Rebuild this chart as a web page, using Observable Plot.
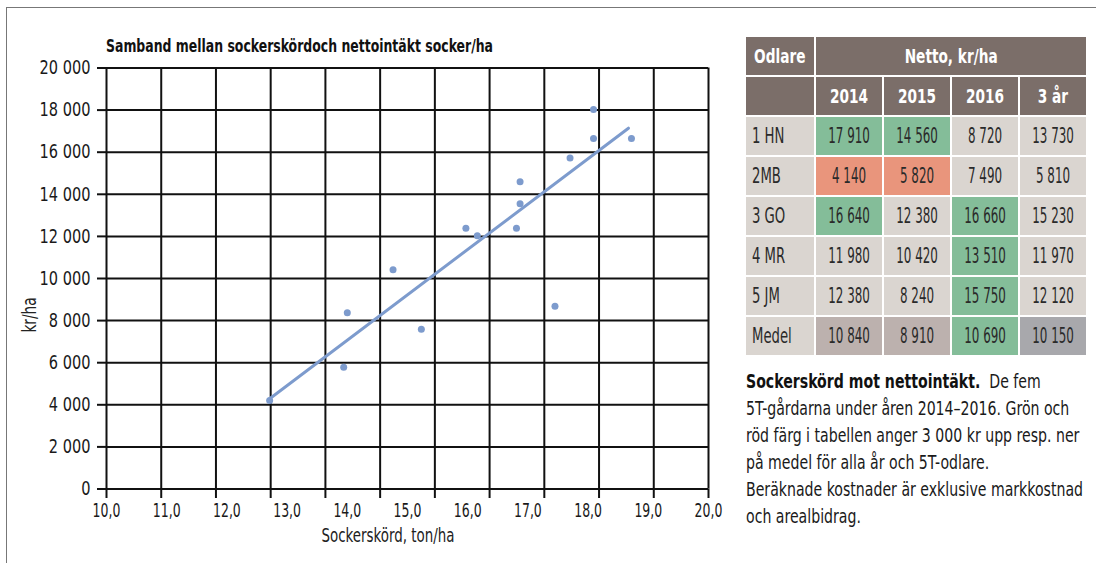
<!DOCTYPE html>
<html>
<head>
<meta charset="utf-8">
<script src="https://cdn.jsdelivr.net/npm/d3@7"></script>
<script src="https://cdn.jsdelivr.net/npm/@observablehq/plot@0.6"></script>
<style>
  body { margin: 0; background: #fff; }
  #wrap { position: relative; width: 1096px; height: 563px; overflow: hidden;
    font-family: "Liberation Sans Narrow", "Arial Narrow", "DejaVu Sans Condensed", sans-serif; color: #222; }
  #frameTop { position: absolute; left: 6px; top: 7px; width: 1090px; height: 0; border-top: 1.5px solid #777; }
  #frameLeft { position: absolute; left: 6px; top: 7px; width: 0; height: 556px; border-left: 1.5px solid #777; }
  #title { position: absolute; left: 106px; top: 36px; font-weight: bold; font-size: 18px; line-height: 20px; color: #111; white-space: nowrap; transform-origin: 0 50%; }
  #chart { position: absolute; left: 0; top: 55px; }
  #ylab { position: absolute; left: 29px; top: 315px; font-size: 19px; transform: translate(-50%, -50%) rotate(-90deg) scaleX(0.8); white-space: nowrap; }
  #xlab { position: absolute; left: 388px; top: 535px; font-size: 19px; white-space: nowrap; }
  #tbl { position: absolute; left: 744px; top: 35px; border-collapse: separate; border-spacing: 2px; background: #fff; table-layout: fixed; }
  #tbl td, #tbl th { width: 66px; height: 38px; padding: 0; text-align: center; vertical-align: middle; box-sizing: border-box; white-space: nowrap; }
  #tbl th { background: #7b6e69; color: #fff; font-weight: bold; font-size: 20px; }
  #tbl th span { display: inline-block; transform: scaleX(0.76); }
  #tbl td { background: #dad5d0; color: #2a2a2a; font-size: 21px; }
  #tbl td span { display: inline-block; transform: scaleX(0.63); }
  #tbl td.name { text-align: left; padding-left: 6px; }
  #tbl td.name span { transform-origin: 0 50%; transform: scaleX(0.7); }
  #tbl td.up { background: #84bd99; }
  #tbl td.down { background: #e9957c; }
  #tbl td.meanYear { background: #bcb1ae; }
  #tbl td.meanAll { background: #a8a8ac; }
  #caption { position: absolute; left: 746px; top: 368px; font-size: 20px; line-height: 27px; color: #1a1a1a; white-space: nowrap; transform-origin: 0 0; }
  #caption b { color: #111; }
</style>
</head>
<body>
<div id="wrap">
  <div id="frameTop"></div>
  <div id="frameLeft"></div>
  <div id="title"></div>
  <div id="chart"></div>
  <div id="ylab"></div>
  <div id="xlab"></div>
  <table id="tbl"></table>
  <div id="caption"></div>
</div>
<script>
// ---- Scatter data ----
const sugarYield = [12.71, 13.94, 14.00, 14.76, 15.23, 15.97, 16.16, 16.81, 16.87, 16.87, 17.45, 17.70, 18.09, 18.09, 18.72];
const netIncome  = [4200, 5780, 8370, 10420, 7590, 12390, 12030, 12390, 14600, 13550, 8680, 15720, 18030, 16650, 16650];
// trend line end points
const trendYield  = [12.71, 18.67];
const trendIncome = [4285, 17140];
// axis ticks
const xTickValues = [10, 11, 12, 13, 14, 15, 16, 17, 18, 19, 20];
const yTickValues = [0, 2000, 4000, 6000, 8000, 10000, 12000, 14000, 16000, 18000, 20000];
const xGridCount = 11; // the drawn grid has 11 columns between 10,0 and 20,0

// ---- Table data ----
const growers  = ["1 HN", "2MB", "3 GO", "4 MR", "5 JM", "Medel"];
const yearCols = ["2014", "2015", "2016", "3 år"];
const net2014  = [17910, 4140, 16640, 11980, 12380, 10840];
const net2015  = [14560, 5820, 12380, 10420, 8240, 8910];
const net2016  = [8720, 7490, 16660, 13510, 15750, 10690];
const net3yr   = [13730, 5810, 15230, 11970, 12120, 10150];
// marking of the "Medel" row as printed (per column)
const meanRowMarks = ["meanYear", "meanYear", "up", "meanAll"];

// ---- Texts ----
const titleText = "Samband mellan sockerskördoch nettointäkt socker/ha";
const xTitle = "Sockerskörd, ton/ha";
const yTitle = "kr/ha";
const captionBold = "Sockerskörd mot nettointäkt.";
const captionLines = [
  "\u00a0 De fem",
  "5T-gårdarna under åren 2014–2016. Grön och",
  "röd färg i tabellen anger 3 000 kr upp resp. ner",
  "på medel för alla år och 5T-odlare.",
  "Beräknade kostnader är exklusive markkostnad",
  "och arealbidrag."
];

const fmtNum = d => d3.format(",")(d).replace(/,/g, " ");
const FONT = '"Liberation Sans Narrow", "Arial Narrow", "DejaVu Sans Condensed", sans-serif';
const BLUE = "#7d9bcd";

const points = sugarYield.map((x, i) => ({x, y: netIncome[i]}));
const trend = trendYield.map((x, i) => ({x, y: trendIncome[i]}));
const xGrid = d3.range(xGridCount + 1).map(k => xTickValues[0] + k * (xTickValues[xTickValues.length - 1] - xTickValues[0]) / xGridCount);

const chart = Plot.plot({
  width: 730,
  height: 508,
  marginLeft: 106,
  marginRight: 22,
  marginTop: 12.5,
  marginBottom: 74.5,
  style: {background: "transparent", fontFamily: FONT, fontSize: "18px", color: "#1a1a1a", overflow: "visible"},
  x: {domain: [10, 20]},
  y: {domain: [0, 20000]},
  marks: [
    Plot.gridX(xGrid, {stroke: "#111", strokeOpacity: 1, strokeWidth: 2}),
    Plot.gridY(yTickValues, {stroke: "#111", strokeOpacity: 1, strokeWidth: 2}),
    Plot.axisX(xGrid, {tickSize: 9.5, tickFormat: () => "", label: null, stroke: "#111", strokeWidth: 2}),
    Plot.axisX(xTickValues, {tickSize: 0, tickPadding: 15, tickFormat: d => d.toFixed(1).replace(".", ","), label: null, fontSize: 19}),
    Plot.axisY(yTickValues, {tickSize: 9, tickPadding: 7, tickFormat: fmtNum, label: null, stroke: "#111", strokeWidth: 2, fontSize: 19.5}),
    Plot.line(trend, {x: "x", y: "y", stroke: BLUE, strokeWidth: 3}),
    Plot.dot(points, {x: "x", y: "y", r: 3.5, fill: BLUE, stroke: "none"})
  ]
});
document.getElementById("chart").append(chart);

// condense tick labels horizontally (the original uses a condensed face)
function squeezeSvgText(selector, sx) {
  chart.querySelectorAll(selector).forEach(t => {
    const tr = t.getAttribute("transform");
    if (tr !== null) t.setAttribute("transform", tr + ` scale(${sx},1)`);
  });
}
squeezeSvgText('g[aria-label="x-axis tick label"] text', 0.73);
squeezeSvgText('g[aria-label="y-axis tick label"] text', 0.83);

// fit an HTML block to a target width by horizontal scaling
function fitWidth(el, target, extra = "") {
  const w = el.getBoundingClientRect().width;
  el.style.transform = `${extra} scaleX(${target / w})`;
}

const titleEl = document.getElementById("title");
titleEl.textContent = titleText;
fitWidth(titleEl, 387);

const xlabEl = document.getElementById("xlab");
xlabEl.textContent = xTitle;
{
  const w = xlabEl.getBoundingClientRect().width;
  xlabEl.style.transform = `translate(-50%, -50%) scaleX(${133 / w})`;
}
document.getElementById("ylab").textContent = yTitle;

// ---- Table ----
const tbl = document.getElementById("tbl");
function addCell(row, tag, text, cls) {
  const c = document.createElement(tag);
  if (text !== "") { const s = document.createElement("span"); s.textContent = text; c.append(s); }
  if (cls) c.className = cls;
  row.append(c);
  return c;
}
const h1 = tbl.insertRow();
addCell(h1, "th", "Odlare");
addCell(h1, "th", "Netto, kr/ha").colSpan = yearCols.length;
const h2 = tbl.insertRow();
addCell(h2, "th", "");
yearCols.forEach(y => addCell(h2, "th", y));

const cols = [net2014, net2015, net2016, net3yr];
const allMean = net3yr[net3yr.length - 1];
growers.forEach((g, r) => {
  const tr = tbl.insertRow();
  addCell(tr, "td", g, "name");
  cols.forEach((col, c) => {
    const v = col[r];
    let cls = "";
    if (r === growers.length - 1) cls = meanRowMarks[c];
    else if (c < 3) {
      if (v >= allMean + 3000) cls = "up";
      else if (v <= allMean - 3000) cls = "down";
    }
    addCell(tr, "td", fmtNum(v), cls);
  });
});

// ---- Caption ----
const cap = document.getElementById("caption");
const b = document.createElement("b"); b.textContent = captionBold; cap.append(b);
let longest = null;
captionLines.forEach((line, i) => {
  if (i > 0) cap.append(document.createElement("br"));
  const s = document.createElement("span");
  s.textContent = line;
  cap.append(s);
  if (line.startsWith("Beräknade")) longest = s;
});
{
  const w = longest.getBoundingClientRect().width;
  cap.style.transform = `scaleX(${337 / w})`;
}
</script>
</body>
</html>
